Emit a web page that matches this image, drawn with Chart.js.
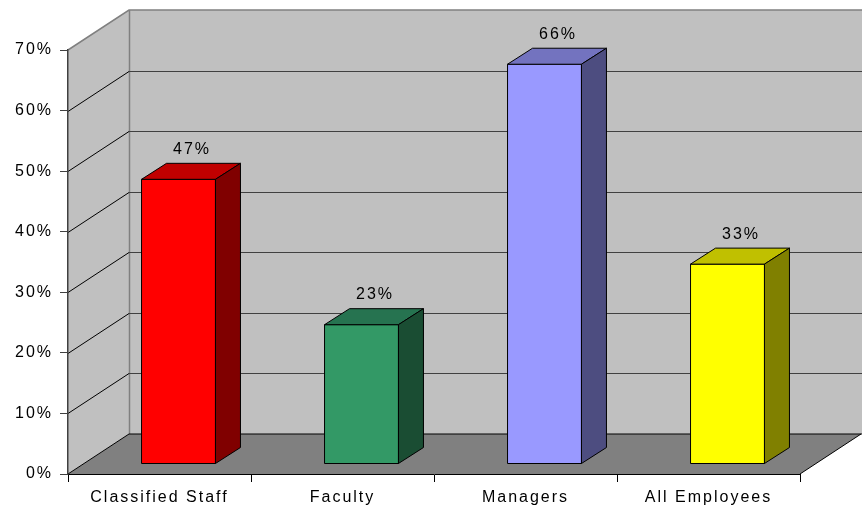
<!DOCTYPE html>
<html>
<head>
<meta charset="utf-8">
<script src="https://cdn.jsdelivr.net/npm/chart.js@4/dist/chart.umd.min.js"></script>
<style>
  html, body { margin: 0; padding: 0; background: #fff; }
  #wrap { width: 862px; height: 507px; }
</style>
</head>
<body>
<div id="wrap"><canvas id="staffChart" width="862" height="507"></canvas></div>
<script>
const categories = ['Classified Staff', 'Faculty', 'Managers', 'All Employees'];
const percentages = [47, 23, 66, 33];
const frontColors = ['#FF0000', '#339966', '#9999FF', '#FFFF00'];
const topColors = ['#C00000', '#267350', '#7373BF', '#C0C000'];
const sideColors = ['#800000', '#1A4D33', '#4D4D80', '#808000'];

// depth of the walls/floor, and how far back the bars stand and how deep they are
const WALL_DX = 61, WALL_DY = -40;
const BAR_OFF_X = 19, BAR_OFF_Y = -10;
const BAR_DX = 25, BAR_DY = -16;
const FONT = '"Liberation Sans", Arial, sans-serif';

const walls = {
  id: 'walls',
  beforeDraw(chart) {
    const ctx = chart.ctx;
    ctx.letterSpacing = '2px';
    const y = chart.scales.y;
    const a = chart.chartArea;
    const y0 = y.getPixelForValue(0);
    const yTop = y.getPixelForValue(y.max);

    ctx.save();
    // side wall
    ctx.fillStyle = '#C0C0C0';
    ctx.beginPath();
    ctx.moveTo(a.left, yTop);
    ctx.lineTo(a.left + WALL_DX, yTop + WALL_DY);
    ctx.lineTo(a.left + WALL_DX, y0 + WALL_DY);
    ctx.lineTo(a.left, y0);
    ctx.closePath();
    ctx.fill();
    // back wall
    ctx.fillRect(a.left + WALL_DX, yTop + WALL_DY, a.right - a.left + 1, y0 - yTop);
    // floor
    ctx.fillStyle = '#808080';
    ctx.beginPath();
    ctx.moveTo(a.left, y0);
    ctx.lineTo(a.left + WALL_DX, y0 + WALL_DY);
    ctx.lineTo(a.right + WALL_DX, y0 + WALL_DY);
    ctx.lineTo(a.right, y0);
    ctx.closePath();
    ctx.fill();

    // outline of the walls
    ctx.lineWidth = 1.5;
    ctx.strokeStyle = '#808080';
    ctx.beginPath();
    ctx.moveTo(a.left, yTop);
    ctx.lineTo(a.left + WALL_DX, yTop + WALL_DY);
    ctx.lineTo(a.right + WALL_DX + 2, yTop + WALL_DY);
    ctx.moveTo(a.left + WALL_DX + 0.5, yTop + WALL_DY);
    ctx.lineTo(a.left + WALL_DX + 0.5, y0 + WALL_DY);
    ctx.stroke();

    // gridlines on side and back walls
    ctx.lineWidth = 1;
    y.ticks.forEach(t => {
      if (t.value <= 0 || t.value >= y.max) return;
      const py = Math.round(y.getPixelForValue(t.value)) + 0.5;
      ctx.strokeStyle = '#000';
      ctx.beginPath();
      ctx.moveTo(a.left, py);
      ctx.lineTo(a.left + WALL_DX, py + WALL_DY);
      ctx.stroke();
      ctx.strokeStyle = '#404040';
      ctx.beginPath();
      ctx.moveTo(a.left + WALL_DX, py + WALL_DY);
      ctx.lineTo(a.right + WALL_DX + 2, py + WALL_DY);
      ctx.stroke();
    });

    // floor edges
    ctx.strokeStyle = '#000';
    ctx.beginPath();
    ctx.moveTo(a.left, y0);
    ctx.lineTo(a.left + WALL_DX, y0 + WALL_DY);
    ctx.lineTo(a.right + WALL_DX + 2, y0 + WALL_DY);
    ctx.moveTo(a.right, y0);
    ctx.lineTo(a.right + WALL_DX, y0 + WALL_DY);
    ctx.stroke();
    ctx.restore();
  }
};

const bars3d = {
  id: 'bars3d',
  afterDatasetsDraw(chart) {
    const ctx = chart.ctx;
    const meta = chart.getDatasetMeta(0);
    ctx.save();
    ctx.lineWidth = 1;
    ctx.strokeStyle = '#000';
    ctx.lineJoin = 'round';
    meta.data.forEach((bar, i) => {
      const p = bar.getProps(['x', 'y', 'base', 'width'], true);
      const l = p.x - p.width / 2 + BAR_OFF_X, r = p.x + p.width / 2 + BAR_OFF_X;
      const t = p.y + BAR_OFF_Y, b = p.base + BAR_OFF_Y;
      // front face
      ctx.fillStyle = frontColors[i];
      ctx.fillRect(l, t, r - l, b - t);
      ctx.strokeRect(l, t, r - l, b - t);
      // top face
      ctx.fillStyle = topColors[i];
      ctx.beginPath();
      ctx.moveTo(l, t);
      ctx.lineTo(l + BAR_DX, t + BAR_DY);
      ctx.lineTo(r + BAR_DX, t + BAR_DY);
      ctx.lineTo(r, t);
      ctx.closePath();
      ctx.fill();
      ctx.stroke();
      // side face
      ctx.fillStyle = sideColors[i];
      ctx.beginPath();
      ctx.moveTo(r, t);
      ctx.lineTo(r + BAR_DX, t + BAR_DY);
      ctx.lineTo(r + BAR_DX, b + BAR_DY);
      ctx.lineTo(r, b);
      ctx.closePath();
      ctx.fill();
      ctx.stroke();

      // value label above the bar
      ctx.fillStyle = '#000';
      ctx.font = '16px ' + FONT;
      ctx.textAlign = 'center';
      ctx.textBaseline = 'middle';
      ctx.fillText(percentages[i] + '%', (l + r) / 2 + BAR_DX / 2 + 1, t + BAR_DY - 14);
    });
    ctx.restore();
  }
};

new Chart(document.getElementById('staffChart'), {
  type: 'bar',
  data: {
    labels: categories,
    datasets: [{
      data: percentages,
      backgroundColor: 'rgba(0,0,0,0)',
      borderWidth: 0,
      categoryPercentage: 1,
      barPercentage: 0.404
    }]
  },
  options: {
    responsive: false,
    animation: false,
    layout: { padding: { left: 0, top: 50, right: 62, bottom: 0 } },
    plugins: {
      legend: { display: false },
      tooltip: { enabled: false }
    },
    scales: {
      x: {
        afterFit(scale) { scale.height = 33; },
        grid: { drawOnChartArea: false, drawTicks: true, tickLength: 8, color: '#000', offset: true },
        border: { color: '#000', width: 1 },
        ticks: { color: '#000', padding: 6, maxRotation: 0, font: { family: FONT, size: 16 } }
      },
      y: {
        min: 0,
        max: 70,
        afterFit(scale) { scale.width = 68; },
        grid: { drawOnChartArea: false, drawTicks: true, tickLength: 8, color: '#404040' },
        border: { color: '#404040', width: 1.5 },
        ticks: {
          stepSize: 10,
          color: '#000',
          padding: 7,
          font: { family: FONT, size: 16 },
          callback: v => v + '%'
        }
      }
    }
  },
  plugins: [walls, bars3d]
});
</script>
</body>
</html>
